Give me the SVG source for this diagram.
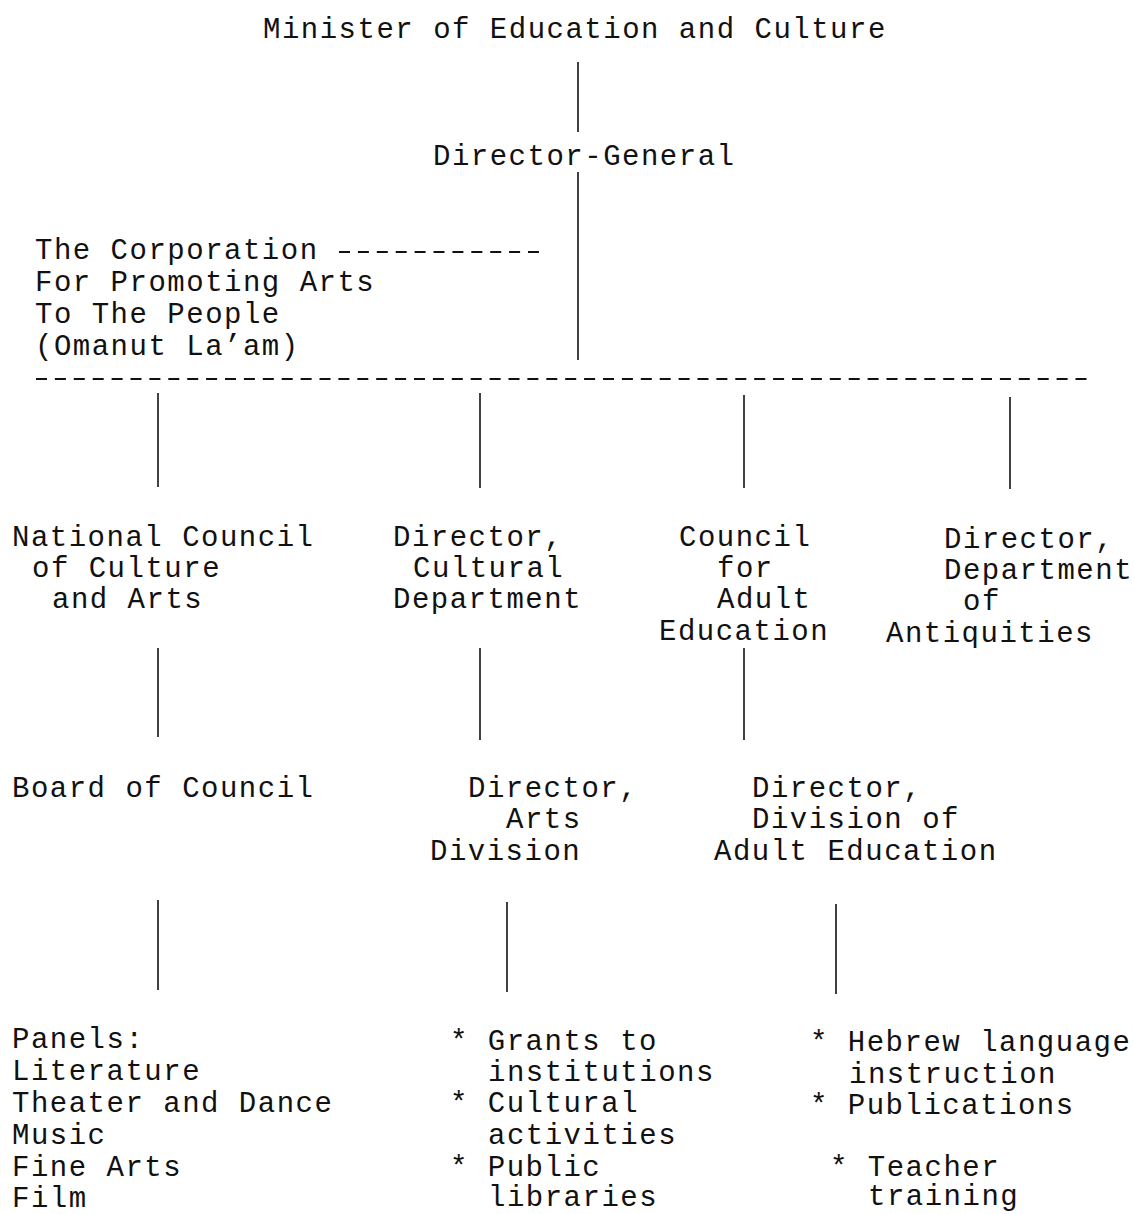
<svg xmlns="http://www.w3.org/2000/svg" width="1134" height="1214" viewBox="0 0 1134 1214">
<style>
  text { font-family: "Liberation Mono", "DejaVu Sans Mono", monospace; font-size: 29px; letter-spacing: 1.5px; fill: #111; }
  .v { stroke: #111; stroke-width: 1.6; fill: none; }
  .d { stroke: #111; stroke-width: 2; fill: none; stroke-dasharray: 11 7.9; }
</style>
<rect width="1134" height="1214" fill="#fff"/>
<g id="connectors">
  <line class="v" x1="578" y1="62" x2="578" y2="132"/>
  <line class="v" x1="578" y1="172" x2="578" y2="360"/>
  <line class="d" x1="339" y1="252" x2="545" y2="252"/>
  <line class="d" x1="36" y1="379" x2="1094" y2="379"/>
  <line class="v" x1="158" y1="393" x2="158" y2="487"/>
  <line class="v" x1="480" y1="393" x2="480" y2="488"/>
  <line class="v" x1="744" y1="395" x2="744" y2="488"/>
  <line class="v" x1="1010" y1="397" x2="1010" y2="489"/>
  <line class="v" x1="158" y1="648" x2="158" y2="737"/>
  <line class="v" x1="480" y1="648" x2="480" y2="740"/>
  <line class="v" x1="744" y1="648" x2="744" y2="740"/>
  <line class="v" x1="158" y1="900" x2="158" y2="990"/>
  <line class="v" x1="507" y1="902" x2="507" y2="992"/>
  <line class="v" x1="836" y1="904" x2="836" y2="994"/>
</g>
<g id="minister"><text x="263" y="38">Minister of Education and Culture</text></g>
<g id="director-general"><text x="433" y="165">Director-General</text></g>
<g id="corporation">
  <text x="35" y="259">The Corporation</text>
  <text x="35" y="291">For Promoting Arts</text>
  <text x="35" y="323">To The People</text>
  <text x="35" y="355">(Omanut La’am)</text>
</g>
<g id="national-council">
  <text x="12" y="546">National Council</text>
  <text x="32" y="577">of Culture</text>
  <text x="52" y="608">and Arts</text>
</g>
<g id="cultural-department">
  <text x="393" y="546">Director,</text>
  <text x="413" y="577">Cultural</text>
  <text x="393" y="608">Department</text>
</g>
<g id="adult-education-council">
  <text x="679" y="546">Council</text>
  <text x="717" y="577">for</text>
  <text x="717" y="608">Adult</text>
  <text x="659" y="640">Education</text>
</g>
<g id="antiquities">
  <text x="944" y="548">Director,</text>
  <text x="944" y="579">Department</text>
  <text x="963" y="610">of</text>
  <text x="886" y="642">Antiquities</text>
</g>
<g id="board-of-council"><text x="12" y="797">Board of Council</text></g>
<g id="arts-division">
  <text x="468" y="797">Director,</text>
  <text x="506" y="828">Arts</text>
  <text x="430" y="860">Division</text>
</g>
<g id="adult-education-division">
  <text x="752" y="797">Director,</text>
  <text x="752" y="828">Division of</text>
  <text x="714" y="860">Adult Education</text>
</g>
<g id="panels">
  <text x="12" y="1048">Panels:</text>
  <text x="12" y="1080">Literature</text>
  <text x="12" y="1112">Theater and Dance</text>
  <text x="12" y="1144">Music</text>
  <text x="12" y="1176">Fine Arts</text>
  <text x="12" y="1207">Film</text>
</g>
<g id="arts-activities">
  <text x="450" y="1050">* Grants to</text>
  <text x="488" y="1081">institutions</text>
  <text x="450" y="1112">* Cultural</text>
  <text x="488" y="1144">activities</text>
  <text x="450" y="1176">* Public</text>
  <text x="488" y="1206">libraries</text>
</g>
<g id="adult-activities">
  <text x="810" y="1051">* Hebrew language</text>
  <text x="849" y="1083">instruction</text>
  <text x="810" y="1114">* Publications</text>
  <text x="830" y="1176">* Teacher</text>
  <text x="868" y="1205">training</text>
</g>
</svg>
